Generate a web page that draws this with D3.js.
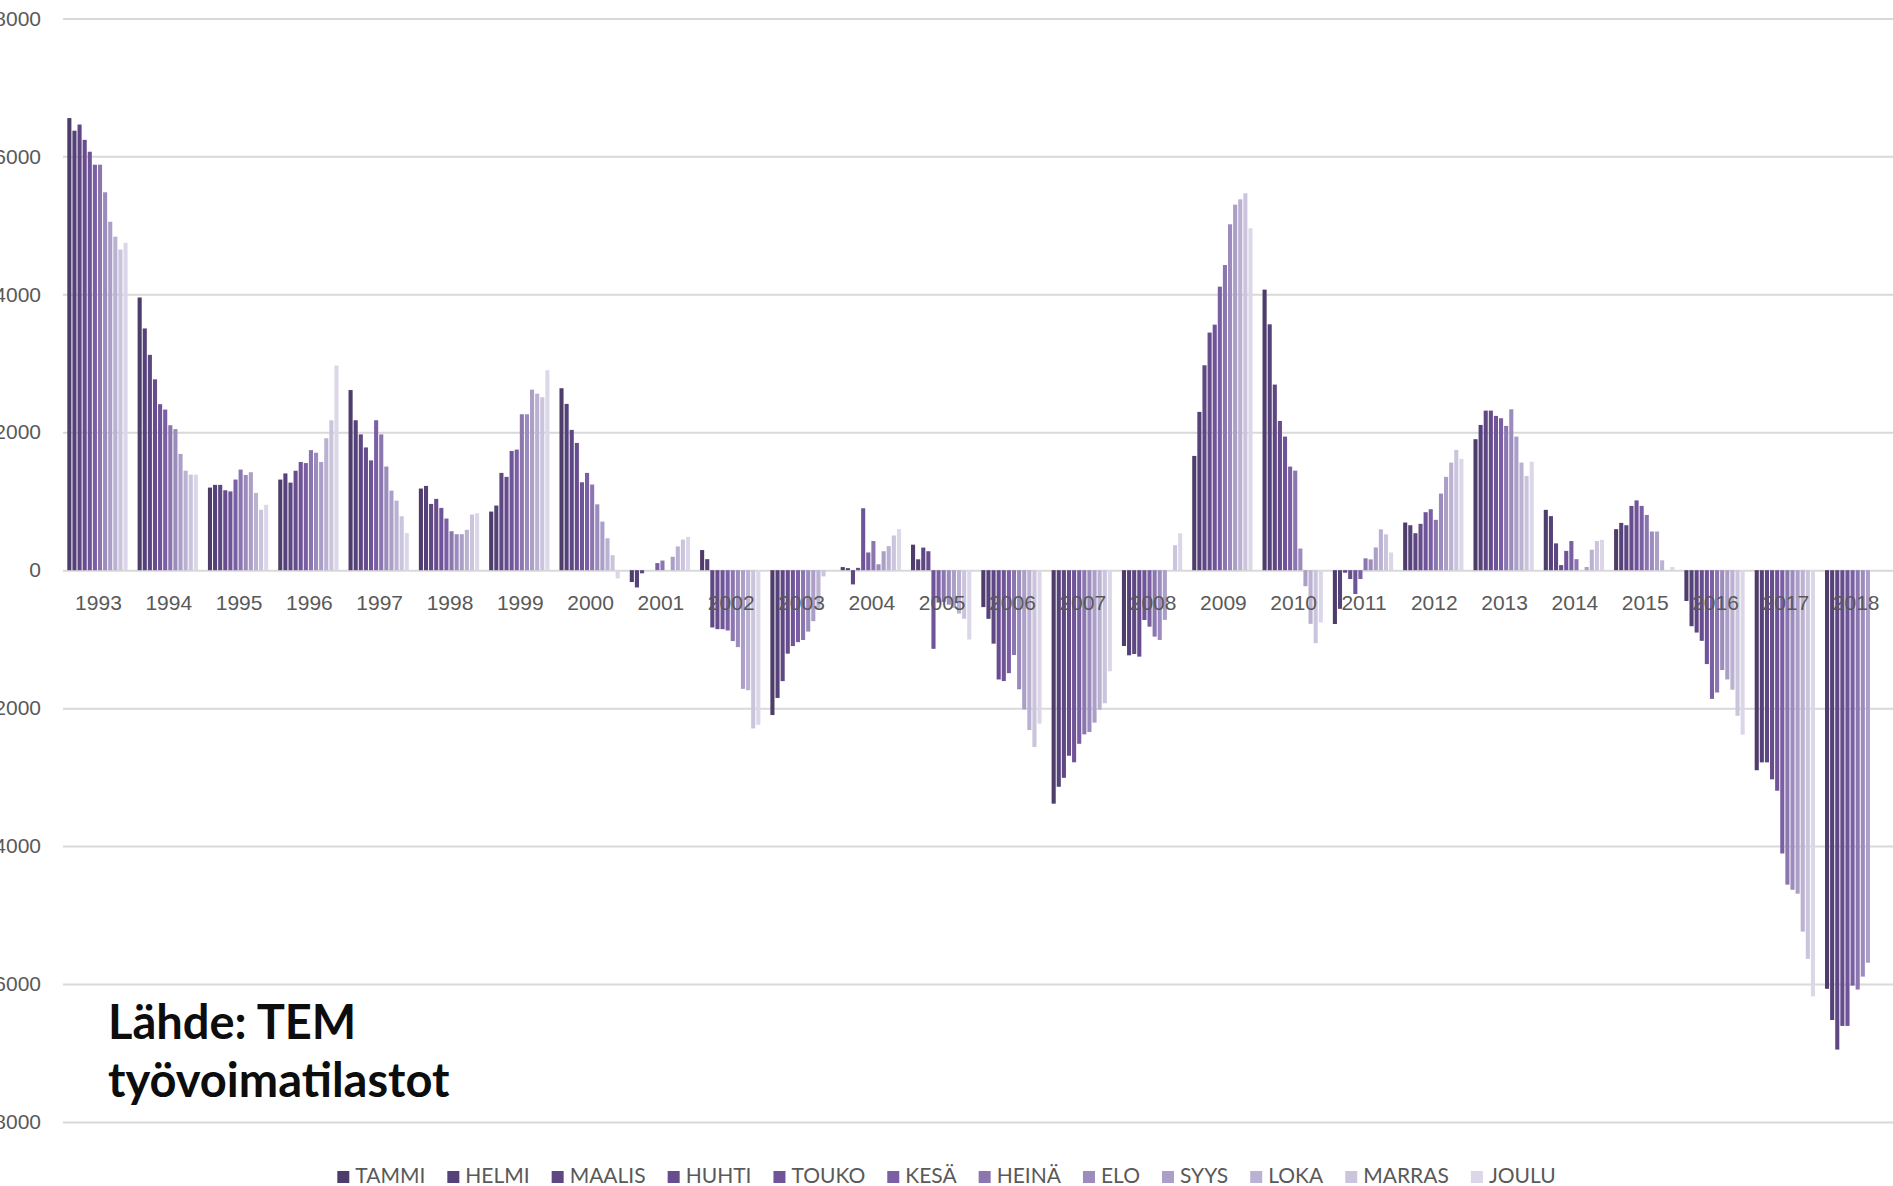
<!DOCTYPE html>
<html lang="fi">
<head>
<meta charset="UTF-8">
<title>Työttömien määrän muutos</title>
<script src="https://d3js.org/d3.v7.min.js"></script>
<style>
  body { margin: 0; background: #fff; overflow: hidden; }
  svg { display: block; font-family: Lato, "Open Sans", sans-serif; }
</style>
</head>
<body>
<div id="chart"></div>
<script>
const years = ["1993", "1994", "1995", "1996", "1997", "1998", "1999", "2000", "2001",
  "2002", "2003", "2004", "2005", "2006", "2007", "2008", "2009", "2010", "2011",
  "2012", "2013", "2014", "2015", "2016", "2017", "2018"];
const months = ["TAMMI", "HELMI", "MAALIS", "HUHTI", "TOUKO", "KESÄ",
  "HEINÄ", "ELO", "SYYS", "LOKA", "MARRAS", "JOULU"];
const yTicks = [-8000, -6000, -4000, -2000, 0, 2000, 4000, 6000, 8000];

// muutos edellisen vuoden samasta kuukaudesta, tammi..joulu
const y1993 = [6555, 6372, 6461, 6239, 6067, 5879, 5879, 5479, 5052, 4836, 4648, 4747];
const y1994 = [3954, 3505, 3122, 2767, 2407, 2329, 2102, 2046, 1686, 1442, 1386, 1386];
const y1995 = [1198, 1237, 1237, 1159, 1142, 1314, 1459, 1381, 1420, 1120, 876, 948];
const y1996 = [1314, 1403, 1270, 1442, 1569, 1553, 1741, 1703, 1569, 1913, 2174, 2967];
const y1997 = [2612, 2174, 1969, 1780, 1592, 2174, 1969, 1503, 1154, 1009, 782, 538];
const y1998 = [1184, 1222, 961, 1034, 903, 749, 565, 522, 522, 585, 807, 826];
const y1999 = [850, 937, 1411, 1353, 1729, 1749, 2261, 2261, 2618, 2560, 2507, 2899];
const y2000 = [2638, 2411, 2034, 1845, 1275, 1411, 1242, 955, 705, 463, 218, -120];
const y2001 = [-172, -250, -45, 0, 0, 103, 140, 0, 195, 345, 444, 483];
const y2002 = [292, 160, -830, -855, -855, -874, -1027, -1115, -1720, -1740, -2294, -2242];
const y2003 = [-2100, -1852, -1608, -1210, -1100, -1043, -1012, -890, -739, -545, -90, 0];
const y2004 = [45, 30, -206, 34, 898, 257, 423, 86, 275, 349, 503, 595];
const y2005 = [370, 158, 328, 275, -1140, -470, -460, -500, -543, -629, -704, -1005];
const y2006 = [-535, -705, -1065, -1584, -1607, -1493, -1230, -1727, -2019, -2317, -2563, -2225];
const y2007 = [-3385, -3140, -3010, -2690, -2785, -2517, -2380, -2345, -2210, -2025, -1929, -1466];
const y2008 = [-1099, -1234, -1215, -1253, -722, -819, -963, -1011, -720, 0, 362, 535];
const y2009 = [1657, 2295, 2971, 3445, 3560, 4111, 4425, 5015, 5300, 5377, 5464, 4957];
const y2010 = [4068, 3565, 2691, 2164, 1937, 1502, 1444, 314, -232, -778, -1058, -758];
const y2011 = [-780, -560, -36, -128, -346, -128, 172, 157, 330, 593, 520, 257];
const y2012 = [691, 652, 536, 672, 841, 884, 730, 1111, 1353, 1560, 1744, 1614];
const y2013 = [1899, 2106, 2314, 2314, 2237, 2203, 2092, 2333, 1937, 1560, 1367, 1573];
const y2014 = [875, 784, 389, 74, 280, 423, 160, 0, 46, 297, 423, 440];
const y2015 = [595, 686, 652, 932, 1012, 932, 801, 561, 561, 143, 0, 46];
const y2016 = [-446, -812, -904, -1024, -1361, -1865, -1773, -1447, -1584, -1733, -2111, -2385];
const y2017 = [-2900, -2786, -2786, -3032, -3197, -4107, -4559, -4633, -4690, -5240, -5634, -6178];
const y2018 = [-6069, -6521, -6950, -6607, -6607, -6023, -6080, -5892, -5691];

const rows = [y1993, y1994, y1995, y1996, y1997, y1998, y1999, y2000, y2001, y2002,
  y2003, y2004, y2005, y2006, y2007, y2008, y2009, y2010, y2011, y2012, y2013,
  y2014, y2015, y2016, y2017, y2018];

const palette = ["#4e3c6a", "#56427a", "#5e4783", "#674d8e", "#6f5499", "#7b5fa5",
  "#8b76b0", "#9c8cbd", "#ab9fc7", "#bbb1d2", "#cbc4dd", "#dcd7e8"];

const W = 1893, H = 1186;
const svg = d3.select("#chart").append("svg")
  .attr("width", W)
  .attr("height", H);

const y = d3.scaleLinear().domain([-8000, 8000]).range([1122, 18.4]);
const x0 = d3.scaleBand().domain(years).range([63.3, 1891.3]);
const x1 = d3.scaleBand().domain(months)
  .range([3.5, x0.bandwidth() - 5.5])
  .paddingInner(0.2)
  .paddingOuter(0.1);

// y-akseli ja ruudukko (vasen reuna leikkautuu kuten alkuperäisessä)
const yAxis = svg.append("g")
  .attr("transform", "translate(63,0)")
  .call(d3.axisLeft(y)
    .tickValues(yTicks)
    .tickSizeInner(-(W - 63))
    .tickSizeOuter(0)
    .tickPadding(22)
    .tickFormat(d => String(d)));
yAxis.select(".domain").remove();
yAxis.selectAll(".tick line").attr("stroke", "#d9d9d9").attr("stroke-width", 2);
yAxis.selectAll(".tick text")
  .attr("fill", "#595959")
  .style("font-size", "21px");

// pylväät
const groups = svg.append("g").selectAll("g")
  .data(rows)
  .join("g")
  .attr("transform", (d, i) => `translate(${x0(years[i])},0)`);

groups.selectAll("rect")
  .data(d => d)
  .join("rect")
  .attr("x", (d, i) => x1(months[i]))
  .attr("width", x1.bandwidth())
  .attr("y", d => y(Math.max(0, d)))
  .attr("height", d => Math.abs(y(d) - y(0)))
  .attr("fill", (d, i) => palette[i]);

// vuodet
const xAxis = svg.append("g")
  .attr("transform", `translate(0,${y(0)})`)
  .call(d3.axisBottom(x0).tickSize(0).tickPadding(25));
xAxis.select(".domain").remove();
xAxis.selectAll(".tick text")
  .attr("fill", "#595959")
  .style("font-size", "21px");

// lähde
const src = svg.append("text")
  .attr("x", 108)
  .attr("y", 1039)
  .attr("fill", "#0d0d0d")
  .style("font-size", "47px")
  .style("font-weight", "bold");
src.append("tspan").attr("x", 108).text("Lähde: TEM");
src.append("tspan").attr("x", 108).attr("dy", 58).text("työvoimatilastot");

// selite
const legend = svg.append("g");
let lx = 0;
months.forEach((m, i) => {
  const item = legend.append("g").attr("transform", `translate(${lx},0)`);
  item.append("rect")
    .attr("x", 0).attr("y", -12)
    .attr("width", 12).attr("height", 12)
    .attr("fill", palette[i]);
  const t = item.append("text")
    .attr("x", 18).attr("y", 0)
    .attr("fill", "#595959")
    .style("font-size", "21px")
    .text(m);
  lx += 18 + t.node().getComputedTextLength() + 22;
});
const legendW = lx - 22;
legend.attr("transform", `translate(${(W - legendW) / 2},1183)`);
</script>
</body>
</html>
